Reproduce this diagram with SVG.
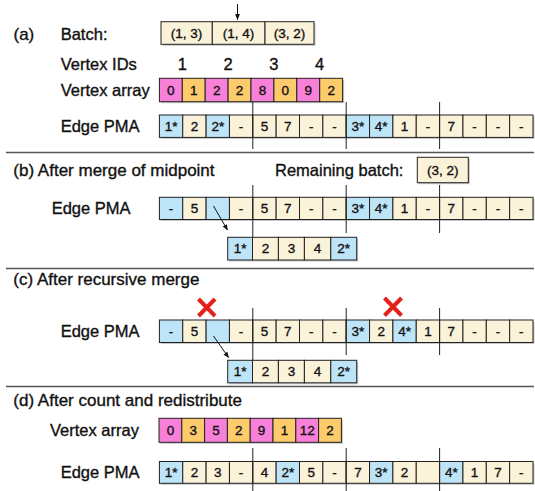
<svg xmlns="http://www.w3.org/2000/svg" width="535" height="491" viewBox="0 0 535 491">
<defs>
<style>
text{font-family:"Liberation Sans",Arial,sans-serif;fill:#111;stroke:#111;stroke-width:0.35}
.t{font-size:17px}
.l{font-size:16.5px}
.c{font-size:13.5px;text-anchor:middle}
.id{font-size:16.5px;text-anchor:middle}
rect.k{stroke:#222;stroke-width:1}
.cr{fill:#FBF2DA}
.bl{fill:#BEE4F8}
.pk{fill:#F880D8}
.or{fill:#FCCB6C}
.sh{fill:#999;opacity:.55}
.sep{stroke:#555;stroke-width:1.3}
.div{stroke:#222;stroke-width:1}
.x{stroke:#E3231B;stroke-width:4;stroke-linecap:butt}
</style>
<marker id="ah" viewBox="0 0 10 10" refX="9" refY="5" markerWidth="6" markerHeight="6" orient="auto-start-reverse">
<path d="M0,1 L10,5 L0,9 z" fill="#111"/>
</marker>
</defs>
<rect width="535" height="491" fill="#fff"/>

<!-- separators -->
<g id="separators">
<line class="sep" x1="6" y1="152.5" x2="534" y2="152.5"/>
<line class="sep" x1="6" y1="268.5" x2="534" y2="268.5"/>
<line class="sep" x1="6" y1="386.5" x2="534" y2="386.5"/>
</g>

<!-- labels -->
<g id="labels">
<text class="t" x="13.5" y="40">(a)</text>
<text class="l" x="60.7" y="40">Batch:</text>
<text class="l" x="60.7" y="69.5">Vertex IDs</text>
<text class="id" x="182.3" y="69.5">1</text>
<text class="id" x="228.1" y="69.5">2</text>
<text class="id" x="273.9" y="69.5">3</text>
<text class="id" x="319.7" y="69.5">4</text>
<text class="l" x="60.7" y="96">Vertex array</text>
<text class="l" x="60.7" y="132">Edge PMA</text>
<text class="t" x="13.3" y="176">(b) After merge of midpoint</text>
<text class="l" x="275" y="176">Remaining batch:</text>
<text class="l" x="51.7" y="214">Edge PMA</text>
<text class="t" x="13.3" y="285">(c) After recursive merge</text>
<text class="l" x="60.7" y="337">Edge PMA</text>
<text class="t" x="13.3" y="406">(d) After count and redistribute</text>
<text class="l" x="50" y="436">Vertex array</text>
<text class="l" x="60.7" y="478">Edge PMA</text>
</g>

<!-- (a) batch -->
<g id="a-batch">
<rect class="sh" x="162.5" y="23.2" width="153" height="22.6"/>
<rect class="k cr" x="161" y="21.7" width="51.3" height="22.6"/>
<rect class="k cr" x="212.3" y="21.7" width="52.7" height="22.6"/>
<rect class="k cr" x="265" y="21.7" width="49" height="22.6"/>
<text class="c" x="186.6" y="37.7">(1, 3)</text>
<text class="c" x="238.6" y="37.7">(1, 4)</text>
<text class="c" x="289.5" y="37.7">(3, 2)</text>
</g>

<!-- (a) vertex array -->
<g id="a-vertex">
<rect class="sh" x="160.9" y="79.8" width="183.2" height="23.4"/>
<rect class="k pk" x="159.4" y="78.3" width="22.9" height="23.4"/>
<rect class="k or" x="182.3" y="78.3" width="22.9" height="23.4"/>
<rect class="k pk" x="205.2" y="78.3" width="22.9" height="23.4"/>
<rect class="k or" x="228.1" y="78.3" width="22.9" height="23.4"/>
<rect class="k pk" x="251" y="78.3" width="22.9" height="23.4"/>
<rect class="k or" x="273.9" y="78.3" width="22.9" height="23.4"/>
<rect class="k pk" x="296.8" y="78.3" width="22.9" height="23.4"/>
<rect class="k or" x="319.7" y="78.3" width="22.9" height="23.4"/>
<text class="c" x="170.85" y="94.7">0</text>
<text class="c" x="193.75" y="94.7">1</text>
<text class="c" x="216.65" y="94.7">2</text>
<text class="c" x="239.55" y="94.7">2</text>
<text class="c" x="262.45" y="94.7">8</text>
<text class="c" x="285.35" y="94.7">0</text>
<text class="c" x="308.25" y="94.7">9</text>
<text class="c" x="331.15" y="94.7">2</text>
</g>

<!-- (a) edge PMA -->
<g id="a-pma">
<rect class="sh" x="160.9" y="116.5" width="373.6" height="22.4"/>
<rect class="k bl" x="159.4" y="115" width="23.35" height="22.4"/>
<rect class="k cr" x="182.75" y="115" width="23.35" height="22.4"/>
<rect class="k bl" x="206.1" y="115" width="23.35" height="22.4"/>
<rect class="k cr" x="229.45" y="115" width="23.35" height="22.4"/>
<rect class="k cr" x="252.8" y="115" width="23.35" height="22.4"/>
<rect class="k cr" x="276.15" y="115" width="23.35" height="22.4"/>
<rect class="k cr" x="299.5" y="115" width="23.35" height="22.4"/>
<rect class="k cr" x="322.85" y="115" width="23.35" height="22.4"/>
<rect class="k bl" x="346.2" y="115" width="23.35" height="22.4"/>
<rect class="k bl" x="369.55" y="115" width="23.35" height="22.4"/>
<rect class="k cr" x="392.9" y="115" width="23.35" height="22.4"/>
<rect class="k cr" x="416.25" y="115" width="23.35" height="22.4"/>
<rect class="k cr" x="439.6" y="115" width="23.35" height="22.4"/>
<rect class="k cr" x="462.95" y="115" width="23.35" height="22.4"/>
<rect class="k cr" x="486.3" y="115" width="23.35" height="22.4"/>
<rect class="k cr" x="509.65" y="115" width="23.35" height="22.4"/>
<text class="c" x="171.1" y="131">1*</text>
<text class="c" x="194.4" y="131">2</text>
<text class="c" x="217.8" y="131">2*</text>
<text class="c" x="241.1" y="131">-</text>
<text class="c" x="264.5" y="131">5</text>
<text class="c" x="287.8" y="131">7</text>
<text class="c" x="311.2" y="131">-</text>
<text class="c" x="334.5" y="131">-</text>
<text class="c" x="357.9" y="131">3*</text>
<text class="c" x="381.2" y="131">4*</text>
<text class="c" x="404.6" y="131">1</text>
<text class="c" x="427.9" y="131">-</text>
<text class="c" x="451.3" y="131">7</text>
<text class="c" x="474.6" y="131">-</text>
<text class="c" x="498" y="131">-</text>
<text class="c" x="521.3" y="131">-</text>
</g>

<!-- (b) remaining batch -->
<g id="b-remaining">
<rect class="sh" x="418.8" y="158.8" width="51" height="25.4"/>
<rect class="k cr" x="417.3" y="157.3" width="51" height="25.4"/>
<text class="c" x="442.8" y="174.7">(3, 2)</text>
</g>

<!-- (b) edge PMA -->
<g id="b-pma">
<rect class="sh" x="160.9" y="198.8" width="373.6" height="22.2"/>
<rect class="k bl" x="159.4" y="197.3" width="23.35" height="22.2"/>
<rect class="k cr" x="182.75" y="197.3" width="23.35" height="22.2"/>
<rect class="k bl" x="206.1" y="197.3" width="23.35" height="22.2"/>
<rect class="k cr" x="229.45" y="197.3" width="23.35" height="22.2"/>
<rect class="k cr" x="252.8" y="197.3" width="23.35" height="22.2"/>
<rect class="k cr" x="276.15" y="197.3" width="23.35" height="22.2"/>
<rect class="k cr" x="299.5" y="197.3" width="23.35" height="22.2"/>
<rect class="k cr" x="322.85" y="197.3" width="23.35" height="22.2"/>
<rect class="k bl" x="346.2" y="197.3" width="23.35" height="22.2"/>
<rect class="k bl" x="369.55" y="197.3" width="23.35" height="22.2"/>
<rect class="k cr" x="392.9" y="197.3" width="23.35" height="22.2"/>
<rect class="k cr" x="416.25" y="197.3" width="23.35" height="22.2"/>
<rect class="k cr" x="439.6" y="197.3" width="23.35" height="22.2"/>
<rect class="k cr" x="462.95" y="197.3" width="23.35" height="22.2"/>
<rect class="k cr" x="486.3" y="197.3" width="23.35" height="22.2"/>
<rect class="k cr" x="509.65" y="197.3" width="23.35" height="22.2"/>
<text class="c" x="171.1" y="213.2">-</text>
<text class="c" x="194.4" y="213.2">5</text>
<text class="c" x="241.1" y="213.2">-</text>
<text class="c" x="264.5" y="213.2">5</text>
<text class="c" x="287.8" y="213.2">7</text>
<text class="c" x="311.2" y="213.2">-</text>
<text class="c" x="334.5" y="213.2">-</text>
<text class="c" x="357.9" y="213.2">3*</text>
<text class="c" x="381.2" y="213.2">4*</text>
<text class="c" x="404.6" y="213.2">1</text>
<text class="c" x="427.9" y="213.2">-</text>
<text class="c" x="451.3" y="213.2">7</text>
<text class="c" x="474.6" y="213.2">-</text>
<text class="c" x="498" y="213.2">-</text>
<text class="c" x="521.3" y="213.2">-</text>
</g>

<!-- (b) overflow block -->
<g id="b-block">
<rect class="sh" x="229.2" y="238.8" width="129" height="22.7"/>
<rect class="k bl" x="227.7" y="237.3" width="24.8" height="22.7"/>
<rect class="k cr" x="252.5" y="237.3" width="25.9" height="22.7"/>
<rect class="k cr" x="278.4" y="237.3" width="26" height="22.7"/>
<rect class="k cr" x="304.4" y="237.3" width="26.4" height="22.7"/>
<rect class="k bl" x="330.8" y="237.3" width="25.9" height="22.7"/>
<text class="c" x="240.1" y="253.4">1*</text>
<text class="c" x="265.4" y="253.4">2</text>
<text class="c" x="291.4" y="253.4">3</text>
<text class="c" x="317.6" y="253.4">4</text>
<text class="c" x="343.7" y="253.4">2*</text>
</g>

<!-- (c) edge PMA -->
<g id="c-pma">
<rect class="sh" x="160.9" y="321.5" width="373.6" height="22.5"/>
<rect class="k bl" x="159.4" y="320" width="23.35" height="22.5"/>
<rect class="k cr" x="182.75" y="320" width="23.35" height="22.5"/>
<rect class="k bl" x="206.1" y="320" width="23.35" height="22.5"/>
<rect class="k cr" x="229.45" y="320" width="23.35" height="22.5"/>
<rect class="k cr" x="252.8" y="320" width="23.35" height="22.5"/>
<rect class="k cr" x="276.15" y="320" width="23.35" height="22.5"/>
<rect class="k cr" x="299.5" y="320" width="23.35" height="22.5"/>
<rect class="k cr" x="322.85" y="320" width="23.35" height="22.5"/>
<rect class="k bl" x="346.2" y="320" width="23.35" height="22.5"/>
<rect class="k cr" x="369.55" y="320" width="23.35" height="22.5"/>
<rect class="k bl" x="392.9" y="320" width="23.35" height="22.5"/>
<rect class="k cr" x="416.25" y="320" width="23.35" height="22.5"/>
<rect class="k cr" x="439.6" y="320" width="23.35" height="22.5"/>
<rect class="k cr" x="462.95" y="320" width="23.35" height="22.5"/>
<rect class="k cr" x="486.3" y="320" width="23.35" height="22.5"/>
<rect class="k cr" x="509.65" y="320" width="23.35" height="22.5"/>
<text class="c" x="171.1" y="336">-</text>
<text class="c" x="194.4" y="336">5</text>
<text class="c" x="241.1" y="336">-</text>
<text class="c" x="264.5" y="336">5</text>
<text class="c" x="287.8" y="336">7</text>
<text class="c" x="311.2" y="336">-</text>
<text class="c" x="334.5" y="336">-</text>
<text class="c" x="357.9" y="336">3*</text>
<text class="c" x="381.2" y="336">2</text>
<text class="c" x="404.6" y="336">4*</text>
<text class="c" x="427.9" y="336">1</text>
<text class="c" x="451.3" y="336">7</text>
<text class="c" x="474.6" y="336">-</text>
<text class="c" x="498" y="336">-</text>
<text class="c" x="521.3" y="336">-</text>
</g>

<!-- (c) overflow block -->
<g id="c-block">
<rect class="sh" x="229.2" y="361.8" width="129" height="22.5"/>
<rect class="k bl" x="227.7" y="360.3" width="24.8" height="22.5"/>
<rect class="k cr" x="252.5" y="360.3" width="25.9" height="22.5"/>
<rect class="k cr" x="278.4" y="360.3" width="26" height="22.5"/>
<rect class="k cr" x="304.4" y="360.3" width="26.4" height="22.5"/>
<rect class="k bl" x="330.8" y="360.3" width="25.9" height="22.5"/>
<text class="c" x="240.1" y="376.3">1*</text>
<text class="c" x="265.4" y="376.3">2</text>
<text class="c" x="291.4" y="376.3">3</text>
<text class="c" x="317.6" y="376.3">4</text>
<text class="c" x="343.7" y="376.3">2*</text>
</g>

<!-- (c) red crosses -->
<g id="c-cross-1">
<line class="x" x1="198.5" y1="299" x2="215" y2="316"/>
<line class="x" x1="215" y1="299" x2="198.5" y2="316"/>
</g>
<g id="c-cross-2">
<line class="x" x1="384.5" y1="298" x2="401.5" y2="315.5"/>
<line class="x" x1="401.5" y1="298" x2="384.5" y2="315.5"/>
</g>

<!-- (d) vertex array -->
<g id="d-vertex">
<rect class="sh" x="160.5" y="419.8" width="182.4" height="24"/>
<rect class="k pk" x="159" y="418.3" width="22.8" height="24"/>
<rect class="k or" x="181.8" y="418.3" width="22.8" height="24"/>
<rect class="k pk" x="204.6" y="418.3" width="22.8" height="24"/>
<rect class="k or" x="227.4" y="418.3" width="22.8" height="24"/>
<rect class="k pk" x="250.2" y="418.3" width="22.8" height="24"/>
<rect class="k or" x="273" y="418.3" width="22.8" height="24"/>
<rect class="k pk" x="295.8" y="418.3" width="22.8" height="24"/>
<rect class="k or" x="318.6" y="418.3" width="22.8" height="24"/>
<text class="c" x="170.4" y="435">0</text>
<text class="c" x="193.2" y="435">3</text>
<text class="c" x="216" y="435">5</text>
<text class="c" x="238.8" y="435">2</text>
<text class="c" x="261.6" y="435">9</text>
<text class="c" x="284.4" y="435">1</text>
<text class="c" x="307.2" y="435">12</text>
<text class="c" x="330" y="435">2</text>
</g>

<!-- (d) edge PMA -->
<g id="d-pma">
<rect class="sh" x="160.9" y="463" width="373.6" height="21.8"/>
<rect class="k bl" x="159.4" y="461.5" width="23.35" height="21.8"/>
<rect class="k cr" x="182.75" y="461.5" width="23.35" height="21.8"/>
<rect class="k cr" x="206.1" y="461.5" width="23.35" height="21.8"/>
<rect class="k cr" x="229.45" y="461.5" width="23.35" height="21.8"/>
<rect class="k cr" x="252.8" y="461.5" width="23.35" height="21.8"/>
<rect class="k bl" x="276.15" y="461.5" width="23.35" height="21.8"/>
<rect class="k cr" x="299.5" y="461.5" width="23.35" height="21.8"/>
<rect class="k cr" x="322.85" y="461.5" width="23.35" height="21.8"/>
<rect class="k cr" x="346.2" y="461.5" width="23.35" height="21.8"/>
<rect class="k bl" x="369.55" y="461.5" width="23.35" height="21.8"/>
<rect class="k cr" x="392.9" y="461.5" width="23.35" height="21.8"/>
<rect class="k cr" x="416.25" y="461.5" width="23.35" height="21.8"/>
<rect class="k bl" x="439.6" y="461.5" width="23.35" height="21.8"/>
<rect class="k cr" x="462.95" y="461.5" width="23.35" height="21.8"/>
<rect class="k cr" x="486.3" y="461.5" width="23.35" height="21.8"/>
<rect class="k cr" x="509.65" y="461.5" width="23.35" height="21.8"/>
<text class="c" x="171.1" y="477.2">1*</text>
<text class="c" x="194.4" y="477.2">2</text>
<text class="c" x="217.8" y="477.2">3</text>
<text class="c" x="241.1" y="477.2">-</text>
<text class="c" x="264.5" y="477.2">4</text>
<text class="c" x="287.8" y="477.2">2*</text>
<text class="c" x="311.2" y="477.2">5</text>
<text class="c" x="334.5" y="477.2">-</text>
<text class="c" x="357.9" y="477.2">7</text>
<text class="c" x="381.2" y="477.2">3*</text>
<text class="c" x="404.6" y="477.2">2</text>
<text class="c" x="451.3" y="477.2">4*</text>
<text class="c" x="474.6" y="477.2">1</text>
<text class="c" x="498" y="477.2">7</text>
<text class="c" x="521.3" y="477.2">-</text>
</g>

<!-- dividers -->
<g id="dividers">
<line class="div" x1="252.8" y1="102" x2="252.8" y2="149"/>
<line class="div" x1="346.2" y1="102" x2="346.2" y2="149"/>
<line class="div" x1="439.6" y1="102" x2="439.6" y2="149"/>
<line class="div" x1="252.8" y1="185" x2="252.8" y2="237.3"/>
<line class="div" x1="346.2" y1="185" x2="346.2" y2="233"/>
<line class="div" x1="439.6" y1="185" x2="439.6" y2="233"/>
<line class="div" x1="252.8" y1="308" x2="252.8" y2="360.3"/>
<line class="div" x1="346.2" y1="308" x2="346.2" y2="355"/>
<line class="div" x1="439.6" y1="308" x2="439.6" y2="355"/>
<line class="div" x1="252.8" y1="448" x2="252.8" y2="491"/>
<line class="div" x1="346.2" y1="448" x2="346.2" y2="491"/>
<line class="div" x1="439.6" y1="448" x2="439.6" y2="491"/>
</g>

<!-- connectors -->
<g id="connectors" stroke="#111" stroke-width="1" fill="none">
<line x1="237.5" y1="4" x2="237.5" y2="19.5" marker-end="url(#ah)"/>
<line x1="213.5" y1="206" x2="227.5" y2="230" marker-end="url(#ah)"/>
<line x1="213.5" y1="336" x2="228.5" y2="357.5" marker-end="url(#ah)"/>
</g>
</svg>
